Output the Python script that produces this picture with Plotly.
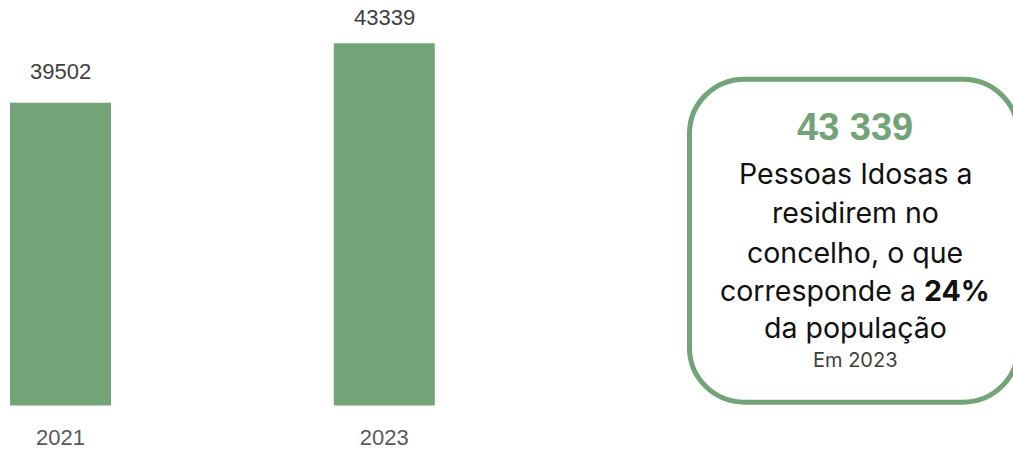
import plotly.graph_objects as go

years = ["2021", "2023"]
values = [39502, 43339]
value_labels = ["39502", "43339"]
label_shifts = [17, 11]

headline = "43 339"
box_lines = [
    "Pessoas Idosas a",
    "residirem no",
    "concelho, o que",
    "corresponde a <b>24%</b>",
    "da população",
]
footnote = "Em 2023"

GREEN = "#72a477"
W, H = 1013, 450

def px(x):
    return x / W
def py(y):
    return 1 - y / H

fig = go.Figure()
fig.add_trace(go.Bar(
    x=years, y=values, width=0.312,
    marker=dict(color=GREEN, line=dict(width=0)),
    hoverinfo="skip",
))

for i, (v, lab, sh) in enumerate(zip(values, value_labels, label_shifts)):
    fig.add_annotation(x=i, y=v, xref="x", yref="y", text=lab, showarrow=False,
                       yanchor="bottom", yshift=sh, xanchor="center",
                       font=dict(family="Liberation Sans, Arial", size=22, color="#404040"))

# rounded box (window pixel positions converted to paper coords)
L, R, T, B = 689.5, 1018, 80.5, 408.5
r = 55
k = 0.448
path = (
    f"M {px(L + r)},{py(T)} L {px(R - r)},{py(T)} "
    f"C {px(R - r * k)},{py(T)} {px(R)},{py(T + r * k)} {px(R)},{py(T + r)} "
    f"L {px(R)},{py(B - r)} "
    f"C {px(R)},{py(B - r * k)} {px(R - r * k)},{py(B)} {px(R - r)},{py(B)} "
    f"L {px(L + r)},{py(B)} "
    f"C {px(L + r * k)},{py(B)} {px(L)},{py(B - r * k)} {px(L)},{py(B - r)} "
    f"L {px(L)},{py(T + r)} "
    f"C {px(L)},{py(T + r * k)} {px(L + r * k)},{py(T)} {px(L + r)},{py(T)} Z"
)
fig.add_shape(type="path", path=path, xref="paper", yref="paper",
              line=dict(color=GREEN, width=5), fillcolor="rgba(0,0,0,0)")

cx = px(855)
fig.add_annotation(x=cx, y=py(129), xref="paper", yref="paper", text=f"<b>{headline}</b>",
                   showarrow=False, xanchor="center", yanchor="middle",
                   font=dict(family="Liberation Sans, Arial", size=38, color=GREEN))
line_y = [176, 216, 256, 295, 333]
for t, yy in zip(box_lines, line_y):
    fig.add_annotation(x=cx, y=py(yy), xref="paper", yref="paper", text=t,
                       showarrow=False, xanchor="center", yanchor="middle",
                       font=dict(family="Inter, Noto Sans", size=28.5, color="#111111"))
fig.add_annotation(x=cx, y=py(366), xref="paper", yref="paper", text=footnote,
                   showarrow=False, xanchor="center", yanchor="middle",
                   font=dict(family="Inter, Noto Sans", size=20, color="#404040"))

fig.update_layout(
    width=W, height=H,
    margin=dict(l=0, r=0, t=0, b=0),
    paper_bgcolor="white", plot_bgcolor="white",
    showlegend=False,
    xaxis=dict(domain=[0, 0.65], range=[-0.187, 1.847], type="category",
               showgrid=False, zeroline=False, showline=False, ticks="",
               tickfont=dict(family="Liberation Sans, Arial", size=22, color="#595959"),
               ticklabelstandoff=16),
    yaxis=dict(domain=[38 / H, 1], range=[20000, 46129], showgrid=False,
               zeroline=False, showline=False, showticklabels=False),
)

post = (
    "document.documentElement.style.margin='0';document.documentElement.style.padding='0';"
    "document.documentElement.style.overflow='hidden';"
    "document.body.style.margin='0';document.body.style.padding='0';"
    "document.body.style.overflow='hidden';"
)
fig.write_html("out.html", config={"displayModeBar": False}, post_script=post)
